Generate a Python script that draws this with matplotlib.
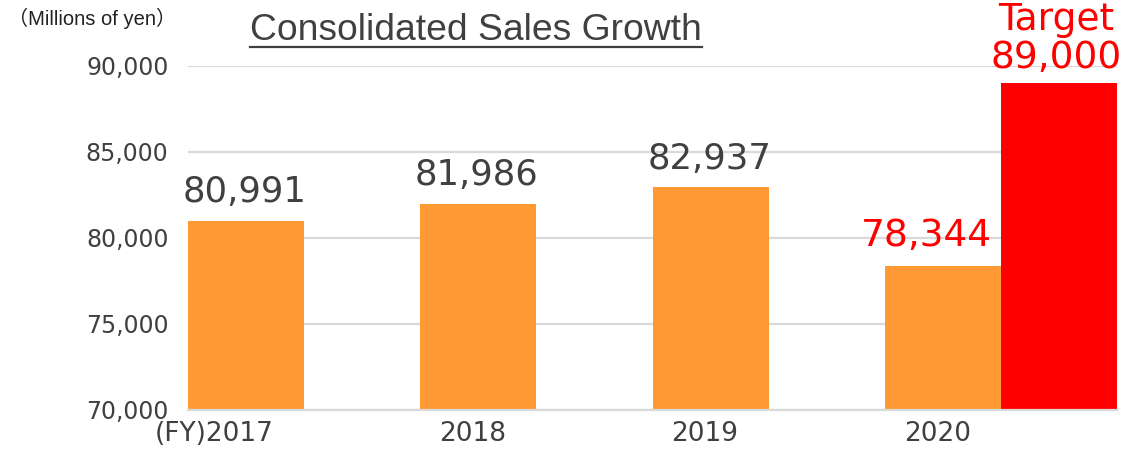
import matplotlib
matplotlib.use("Agg")
import matplotlib.pyplot as plt
from matplotlib.transforms import ScaledTranslation
from matplotlib.lines import Line2D

# ---- data ----
years = ["(FY)2017", "2018", "2019", "2020"]
sales = [80991, 81986, 82937, 78344]
target_label = "Target"
target_value = 89000
y_ticks = [70000, 75000, 80000, 85000, 90000]

ORANGE = "#FF9933"
RED = "#FF0000"
DARK = "#404040"
GRID = "#D9D9D9"

fig = plt.figure(figsize=(11.25, 4.49), dpi=100)
ax = fig.add_axes([188/1125, 1-410/449, (1117-188)/1125, (410-66)/449])

xs = list(range(len(years)))
ax.bar([x + 0.25 for x in xs], sales, width=0.5, color=ORANGE, zorder=2)
ax.bar([xs[-1] + 0.75], [target_value], width=0.5, color=RED, zorder=2)

ax.set_xlim(0, 4)
ax.set_ylim(70000, 90000)
ax.set_yticks(y_ticks)
ax.set_yticklabels([f"{v:,}" for v in y_ticks], fontsize=17, color=DARK,
                   family="DejaVu Sans")
ax.yaxis.grid(True, color=GRID, linewidth=1.6, zorder=0)
ax.set_axisbelow(True)
for s in ["left", "right", "top"]:
    ax.spines[s].set_visible(False)
ax.spines["bottom"].set_color(GRID)
ax.spines["bottom"].set_linewidth(1.6)
ax.tick_params(axis="y", length=0, pad=14)
ax.tick_params(axis="x", length=0, pad=8)

ax.set_xticks([x + 0.25 for x in xs])
ax.set_xticklabels(years, fontsize=19, color=DARK, family="DejaVu Sans")
for lbl in ax.get_xticklabels():
    lbl.set_ha("right")
    lbl.set_transform(lbl.get_transform() + ScaledTranslation(28/100, 0, fig.dpi_scale_trans))

# data labels
for i, v in enumerate(sales[:-1]):
    ax.annotate(f"{v:,}", (i + 0.25, v), xytext=(-1, 13.5), textcoords="offset points",
                ha="center", va="baseline", fontsize=25.5, color=DARK,
                family="DejaVu Sans", annotation_clip=False)
ax.annotate(f"{sales[-1]:,}", (3 + 0.5, sales[-1]), xytext=(-6.5, 14.5),
            textcoords="offset points", ha="right", va="baseline", fontsize=27,
            color=RED, family="DejaVu Sans", annotation_clip=False)
ax.annotate(f"{target_value:,}", (3 + 0.75, target_value), xytext=(-2, 11),
            textcoords="offset points", ha="center", va="baseline", fontsize=27,
            color=RED, family="DejaVu Sans", annotation_clip=False)
ax.annotate(target_label, (3 + 0.75, target_value), xytext=(-2, 38.5),
            textcoords="offset points", ha="center", va="baseline", fontsize=27,
            color=RED, family="DejaVu Sans", annotation_clip=False)

# unit label
fig.text(8/1125, 1-25/449, "（Millions of yen）", fontsize=14.5, color="#222222",
         family=["Liberation Sans", "Noto Sans CJK JP"], ha="left", va="baseline")

# title with underline
title = fig.text(250/1125, 1-40/449, "Consolidated Sales Growth", fontsize=26.8,
                 color=DARK, family="Liberation Sans", ha="left", va="baseline")
fig.canvas.draw()
bb = title.get_window_extent(fig.canvas.get_renderer())
x0, x1 = bb.x0 / fig.bbox.width, bb.x1 / fig.bbox.width
yline = 1 - 47/449
fig.add_artist(Line2D([x0, x1], [yline, yline], color=DARK, linewidth=1.6,
                      transform=fig.transFigure))

fig.savefig("out.png", dpi=100)
